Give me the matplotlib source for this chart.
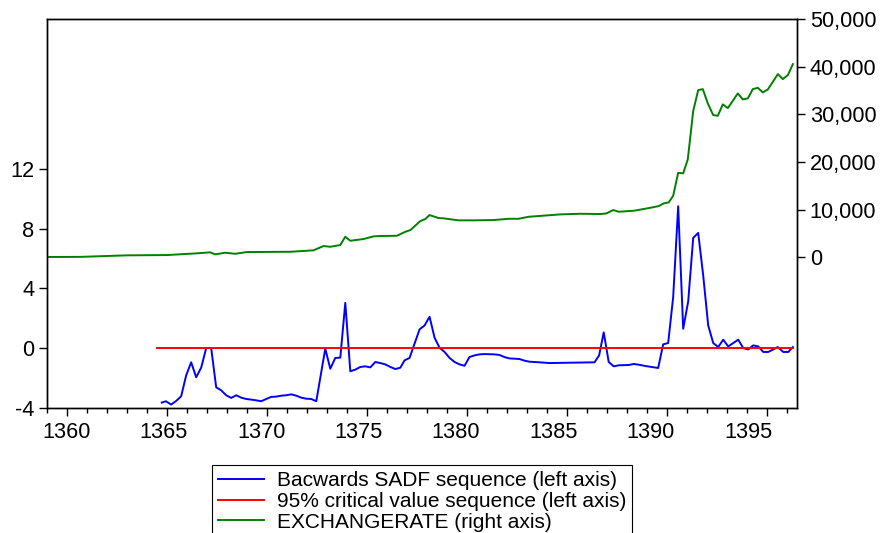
import matplotlib
matplotlib.use("Agg")
import matplotlib.pyplot as plt
from matplotlib.ticker import MultipleLocator

plt.rcParams["font.family"] = ["Liberation Sans", "DejaVu Sans"]

# Backwards SADF sequence (left axis)
sadf_years = [1364.75, 1364.96, 1365.22, 1365.47, 1365.72, 1365.97, 1366.22, 1366.47,
              1366.72, 1366.97, 1367.22, 1367.47, 1367.72, 1367.97, 1368.22, 1368.47,
              1368.72, 1368.97, 1369.22, 1369.47, 1369.72, 1369.97, 1370.22, 1370.47,
              1370.72, 1370.97, 1371.22, 1371.47, 1371.72, 1371.97, 1372.22, 1372.47,
              1372.92, 1373.17, 1373.42, 1373.67, 1373.92, 1374.17, 1374.42, 1374.67,
              1374.92, 1375.17, 1375.42, 1375.67, 1375.92, 1376.17, 1376.42, 1376.67,
              1376.88, 1377.13, 1377.63, 1377.88, 1378.13, 1378.38, 1378.63, 1378.88,
              1379.13, 1379.38, 1379.63, 1379.88, 1380.12, 1380.37, 1380.62, 1380.87,
              1381.37, 1381.62, 1381.87, 1382.12, 1382.62, 1382.87, 1383.12, 1383.62,
              1384.12, 1386.37, 1386.6, 1386.83, 1387.08, 1387.33, 1387.58, 1388.08,
              1388.33, 1388.58, 1388.92, 1389.55, 1389.8, 1390.05, 1390.3, 1390.55,
              1390.8, 1391.05, 1391.3, 1391.55, 1391.8, 1392.05, 1392.3, 1392.55,
              1392.8, 1393.05, 1393.55, 1393.8, 1394.05, 1394.3, 1394.55, 1394.8,
              1395.05, 1395.3, 1395.52, 1395.8, 1396.05, 1396.28]
sadf_vals = [-3.62, -3.53, -3.75, -3.51, -3.2, -1.8, -0.93, -1.93,
             -1.29, 0.02, 0.02, -2.6, -2.8, -3.13, -3.31, -3.13,
             -3.29, -3.38, -3.42, -3.47, -3.53, -3.38, -3.24, -3.22,
             -3.16, -3.13, -3.07, -3.16, -3.29, -3.36, -3.38, -3.53,
             -0.02, -1.36, -0.64, -0.62, 3.04, -1.53, -1.42, -1.24,
             -1.2, -1.27, -0.91, -0.98, -1.07, -1.24, -1.38, -1.29,
             -0.8, -0.64, 1.27, 1.53, 2.11, 0.71, 0.04, -0.24,
             -0.64, -0.91, -1.07, -1.16, -0.58, -0.47, -0.4, -0.38,
             -0.4, -0.44, -0.58, -0.67, -0.71, -0.82, -0.89, -0.93,
             -0.98, -0.93, -0.47, 1.07, -0.91, -1.2, -1.13, -1.11,
             -1.04, -1.09, -1.18, -1.31, 0.27, 0.36, 3.42, 9.49,
             1.31, 3.13, 7.38, 7.71, 4.87, 1.53, 0.36, 0.09,
             0.58, 0.13, 0.58, 0.02, -0.07, 0.2, 0.13, -0.24,
             -0.24, -0.07, 0.09, -0.24, -0.24, 0.09]

# 95% critical value sequence (left axis)
crit_years = [1364.5, 1396.28]
crit_vals = [0.0, 0.0]

# EXCHANGERATE (right axis)
fx_years = [1359.0, 1360.67, 1363.0, 1365.0, 1366.5, 1367.17, 1367.42, 1367.92,
            1368.42, 1369.0, 1371.17, 1372.33, 1372.83, 1373.17, 1373.67, 1373.92,
            1374.17, 1374.83, 1375.33, 1375.67, 1376.5, 1376.92, 1377.17, 1377.67,
            1377.92, 1378.13, 1378.58, 1378.83, 1379.58, 1380.33, 1381.33, 1382.08,
            1382.58, 1383.08, 1384.67, 1385.67, 1386.67, 1386.97, 1387.3, 1387.58,
            1388.33, 1389.0, 1389.58, 1389.83, 1390.08, 1390.3, 1390.55, 1390.8,
            1391.03, 1391.3, 1391.55, 1391.78, 1392.03, 1392.3, 1392.53, 1392.78,
            1393.03, 1393.28, 1393.53, 1393.78, 1394.03, 1394.28, 1394.53, 1394.78,
            1395.03, 1395.28, 1395.53, 1395.78, 1396.03, 1396.28]
fx_vals = [70, 100, 420, 480, 840, 1050, 630, 970,
           750, 1110, 1170, 1470, 2370, 2220, 2580, 4320,
           3480, 3840, 4400, 4470, 4530, 5370, 5720, 7610,
           8030, 8870, 8240, 8180, 7760, 7760, 7820, 8090,
           8090, 8510, 9010, 9140, 9080, 9220, 9920, 9560,
           9770, 10270, 10750, 11320, 11530, 12910, 17740, 17610,
           20550, 30670, 35070, 35280, 32280, 29830, 29690, 32080,
           31300, 32830, 34380, 33120, 33330, 35280, 35560, 34590,
           35220, 36810, 38430, 37380, 38220, 40520]

left_ticks = [-4, 0, 4, 8, 12]
right_ticks = [0, 10000, 20000, 30000, 40000, 50000]
year_ticks = [1360, 1365, 1370, 1375, 1380, 1385, 1390, 1395]

fig = plt.figure(figsize=(8.8, 5.33), dpi=100)
ax = fig.add_axes([0.053, 0.234, 0.853, 0.7305])
ax2 = ax.twinx()

l1, = ax.plot(sadf_years, sadf_vals, color="#0000ff", lw=1.4,
              label="Bacwards SADF sequence (left axis)")
l2, = ax.plot(crit_years, crit_vals, color="#ff0000", lw=1.4,
              label="95% critical value sequence (left axis)")
l3, = ax2.plot(fx_years, fx_vals, color="#008000", lw=1.4,
               label="EXCHANGERATE (right axis)")

ax.set_xlim(1359.0, 1396.5)
ax.set_ylim(-4, 22)
ax2.set_ylim(-31650, 50000)

# tick marks on the years, labels drawn a little to the left as in the original
ax.set_xticks(year_ticks)
ax.set_xticklabels([""] * len(year_ticks))
ax.xaxis.set_minor_locator(MultipleLocator(1))
for y in year_ticks:
    lx = 1360 + (y - 1360) * 0.9725
    ax.annotate(str(y), xy=(lx, 0), xycoords=ax.get_xaxis_transform(),
                xytext=(0, -10), textcoords="offset points",
                ha="center", va="top", fontsize=15.7)

ax.set_yticks(left_ticks)
ax.set_yticklabels([str(v) for v in left_ticks])
ax2.set_yticks(right_ticks)
ax2.set_yticklabels(["{:,}".format(v) for v in right_ticks])

ax.tick_params(axis="x", which="major", direction="out", length=6, width=1)
ax.tick_params(axis="x", which="minor", direction="out", length=3.5, width=1)
ax.tick_params(axis="y", direction="out", length=6, width=1, labelsize=15.7, pad=3)
ax2.tick_params(axis="y", direction="out", length=6, width=1, labelsize=15.7, pad=3)

for a in (ax, ax2):
    for s in a.spines.values():
        s.set_linewidth(1.0)
        s.set_color("black")

leg = fig.legend(handles=[l1, l2, l3], loc="upper left",
                 bbox_to_anchor=(212 / 880, 1 - 465 / 533), bbox_transform=fig.transFigure,
                 borderaxespad=0, borderpad=0.3, labelspacing=0.08, handlelength=2.2,
                 handletextpad=0.6, fontsize=15, fancybox=False, framealpha=1,
                 edgecolor="black")
leg.get_frame().set_linewidth(0.8)

fig.savefig("out.png", dpi=100)
